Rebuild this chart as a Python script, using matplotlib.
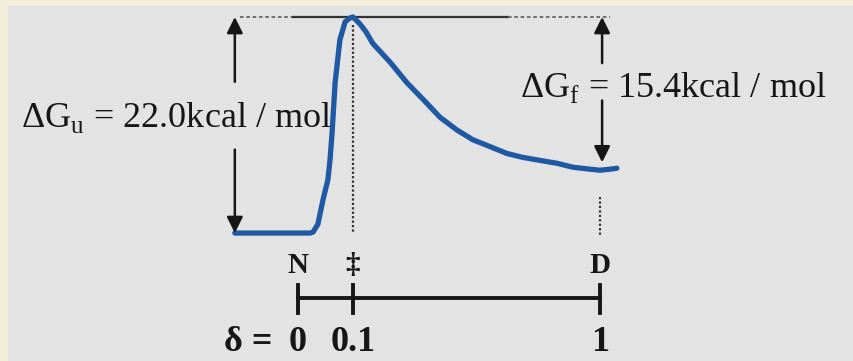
import matplotlib.pyplot as plt
from matplotlib.patches import Rectangle

plt.rcParams['font.family'] = ['Liberation Serif', 'DejaVu Serif']
plt.rcParams['mathtext.fontset'] = 'custom'
plt.rcParams['mathtext.rm'] = 'Liberation Serif'

# free energy profile along schematic reaction coordinate (N at 0, D at 1)
coord = [-0.209, 0.04, 0.05, 0.066, 0.083, 0.099, 0.106, 0.113, 0.123, 0.139,
         0.156, 0.172, 0.182, 0.205, 0.225, 0.248, 0.305, 0.361, 0.421, 0.47,
         0.526, 0.579, 0.636, 0.692, 0.745, 0.801, 0.858, 0.911, 0.967, 1.0,
         1.033, 1.056]
energy = [0.0, 0.0, 0.1, 0.9, 3.4, 5.4, 7.4, 10.2, 15.3, 19.7,
          21.5, 21.9, 22.0, 21.3, 20.5, 19.3, 17.4, 15.3, 13.4, 11.8,
          10.5, 9.5, 8.8, 8.1, 7.7, 7.4, 7.1, 6.7, 6.5, 6.4,
          6.5, 6.6]

dG_u = 22.0
dG_f = 15.4
state_pos = [0.0, 0.182, 1.0]
state_names = ['N', '‡', 'D']
delta_labels = ['0', '0.1', '1']

BLUE = '#1f59a3'
INK = '#161616'

fig = plt.figure(figsize=(8.54, 3.61), dpi=100)
fig.patch.set_facecolor('#f3ecda')
ax = fig.add_axes([8 / 854, 0, 846 / 854, 355 / 361])
ax.set_xlim(-0.960, 1.841)
ax.set_ylim(-13.03, 23.12)
ax.axis('off')
ax.add_patch(Rectangle((0, 0), 1, 1, transform=ax.transAxes, facecolor='#e3e3e3',
                       edgecolor='none', zorder=-10, clip_on=False))

G_D = dG_u - dG_f

# reference line at the transition state level
ax.plot([-0.192, -0.017], [dG_u, dG_u], color='#666666', lw=1.3, ls=(0, (2, 1.5)))
ax.plot([-0.017, 0.695], [dG_u, dG_u], color='#333333', lw=1.6)
ax.plot([0.695, 1.033], [dG_u, dG_u], color='#666666', lw=1.3, ls=(0, (2, 1.5)))

# dotted guides
ax.plot([state_pos[1], state_pos[1]], [21.2, 0.1], color='#333333', lw=1.6, ls=(0, (1, 1)))
ax.plot([state_pos[2], state_pos[2]], [3.7, -0.4], color='#333333', lw=1.6, ls=(0, (1, 1)))

# profile
ax.plot(coord, energy, color=BLUE, lw=3.8, solid_capstyle='round', solid_joinstyle='round')

# arrows for dG_u
arr = dict(arrowstyle='-|>', color=INK, lw=1.8, mutation_scale=24, shrinkA=0, shrinkB=0)
ax.annotate('', xy=(-0.209, dG_u), xytext=(-0.209, 15.4), arrowprops=arr)
ax.annotate('', xy=(-0.209, 0.0), xytext=(-0.209, 8.5), arrowprops=arr)
# arrows for dG_f
ax.annotate('', xy=(1.007, dG_u), xytext=(1.007, 17.3), arrowprops=arr)
ax.annotate('', xy=(1.007, G_D + 0.6), xytext=(1.007, 13.5), arrowprops=arr)

ax.text(-0.917, 10.8, r'ΔG$_\mathregular{u}$ = %.1fkcal / mol' % dG_u,
        fontsize=26, color=INK, ha='left', va='baseline')
ax.text(0.735, 13.85, r'ΔG$_\mathregular{f}$ = %.1fkcal / mol' % dG_f,
        fontsize=26, color=INK, ha='left', va='baseline')

# delta axis
ax.plot([state_pos[0], state_pos[-1]], [-6.62, -6.62], color=INK, lw=2.8)
for p, name, lab in zip(state_pos, state_names, delta_labels):
    ax.plot([p, p], [-5.3, -8.15], color=INK, lw=2.8)
    ax.text(p, -3.3, name, fontsize=21, fontweight='bold', color=INK,
            ha='center', va='center')
    ax.text(p, -11.1, lab, fontsize=26, fontweight='bold', color=INK,
            ha='center', va='center')
ax.text(-0.086, -11.1, 'δ =', fontsize=26, fontweight='bold', color=INK,
        ha='right', va='center')

fig.savefig('out.png', dpi=100, facecolor=fig.get_facecolor())
